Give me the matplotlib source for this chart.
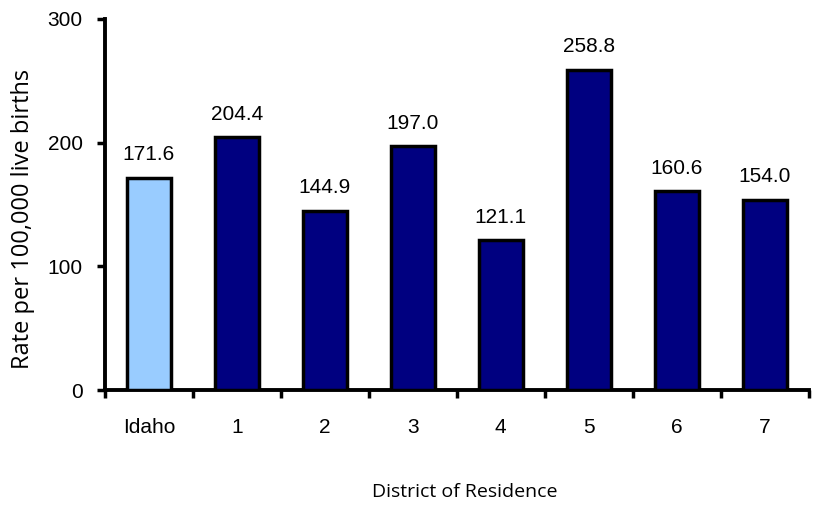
import matplotlib
matplotlib.use("Agg")
import matplotlib.pyplot as plt
import numpy as np

categories = ["Idaho", "1", "2", "3", "4", "5", "6", "7"]
values = [171.6, 204.4, 144.9, 197.0, 121.1, 258.8, 160.6, 154.0]
colors = ["#99CCFF"] + ["#000080"] * 7

fig = plt.figure(figsize=(8.22, 5.05), dpi=100)
ax = fig.add_axes([0.1277, 0.2277, 0.856, 0.7347])
x = np.arange(len(categories))
ax.bar(x, values, width=0.5, color=colors, edgecolor="black", linewidth=2.5, zorder=3)
for xi, v in zip(x, values):
    ax.text(xi, v + 11, f"{v:.1f}", ha="center", va="bottom", fontsize=15,
            family="Liberation Sans")

ax.set_xlim(-0.5, len(categories) - 0.5)
ax.set_ylim(0, 300)
ax.set_yticks([0, 100, 200, 300])
ax.set_xticks(np.arange(len(categories) + 1) - 0.5, minor=False)
ax.set_xticklabels([])
ax.set_xticks(x, minor=True)
ax.set_xticklabels(categories, minor=True, fontsize=15, family="Liberation Sans")
ax.tick_params(axis="x", which="major", direction="out", length=6, width=2.5)
ax.tick_params(axis="x", which="minor", length=0, pad=20)
ax.tick_params(axis="y", direction="out", length=6, width=2.5, pad=10)
for lbl in ax.get_yticklabels():
    lbl.set_fontsize(15)
    lbl.set_family("Liberation Sans")

for s in ["top", "right"]:
    ax.spines[s].set_visible(False)
for s in ["left", "bottom"]:
    ax.spines[s].set_linewidth(2.8)

ax.set_ylabel("Rate per 100,000 live births", fontsize=17, family="Open Sans")
ax.yaxis.set_label_coords(-0.1, 0.46)
ax.set_xlabel("District of Residence", fontsize=14, family="Open Sans")
ax.xaxis.set_label_coords(0.512, -0.25)

fig.savefig("out.png", dpi=100)
